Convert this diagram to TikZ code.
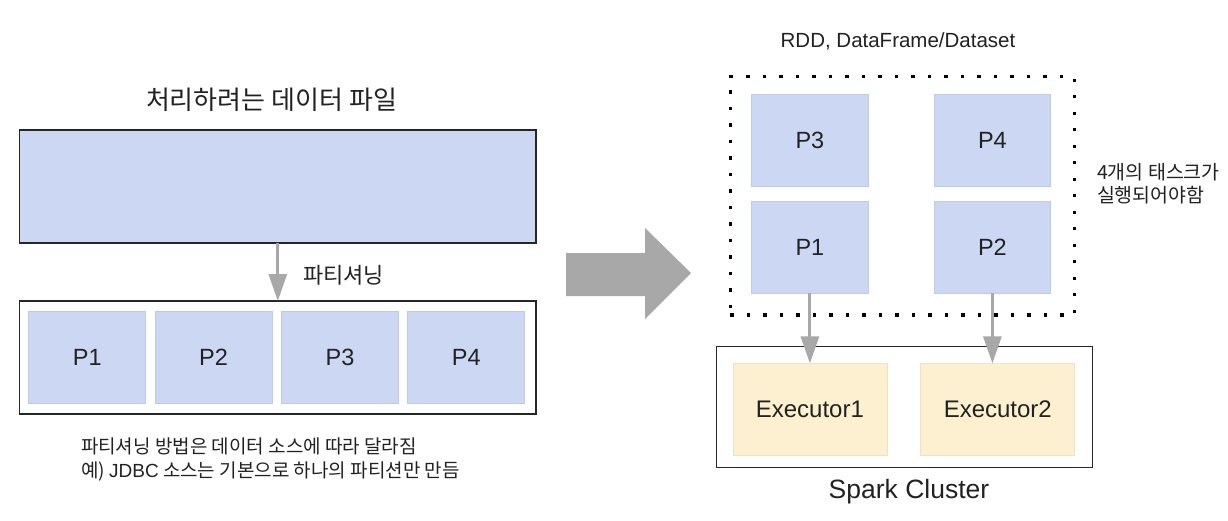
\documentclass[tikz,border=0pt]{standalone}
\usepackage{fontspec}
\setmainfont{Liberation Sans}
\newfontfamily\kr{Noto Sans CJK KR}
\usetikzlibrary{arrows.meta}
\definecolor{pfill}{HTML}{CCD8F3}
\definecolor{pline}{HTML}{BFCBE6}
\definecolor{efill}{HTML}{FCF0D0}
\definecolor{eline}{HTML}{EDE3C5}
\definecolor{arr}{HTML}{A8A8A8}
\definecolor{txt}{HTML}{222222}
\begin{document}
\begin{tikzpicture}[x=1pt,y=-1pt,
  pbox/.style={draw=pline, fill=pfill, line width=0.8pt, inner sep=0pt, outer sep=0pt,
    minimum width=117pt, minimum height=91.5pt, font=\fontsize{23.5}{26}\selectfont, text=txt},
  ebox/.style={draw=eline, fill=efill, line width=0.8pt, inner sep=0pt, outer sep=0pt,
    minimum width=154pt, minimum height=91.7pt, font=\fontsize{24}{26}\selectfont, text=txt},
  frame/.style={draw=black!85, line width=1.5pt, inner sep=0pt, outer sep=0pt},
  dotframe/.style={draw=black, line width=3.3pt, dash pattern=on 3.3pt off 13.2pt, inner sep=0pt, outer sep=0pt},
  conn/.style={draw=arr, line width=3pt, -{Triangle[length=27pt,width=18pt]}},
  lbl/.style={text=txt, inner sep=0pt, outer sep=0pt}]
\fill[white] (0,0) rectangle (1228,520);
\useasboundingbox (0,0) rectangle (1228,520);

% left side
\node[lbl, font=\kr\fontsize{26}{30}\selectfont] (title) at (271.5,100) {처리하려는 데이터 파일};
\node[frame, fill=pfill, minimum width=516.4pt, minimum height=112.7pt] (file) at (277.8,186.4) {};
\node[frame, minimum width=516.4pt, minimum height=113pt] (parts) at (277.8,357.5) {};
\node[pbox] (lp1) at (87.2,357.5) {P1};
\node[pbox] (lp2) at (213.5,357.5) {P2};
\node[pbox] (lp3) at (340,357.5) {P3};
\node[pbox] (lp4) at (466.2,357.5) {P4};
\draw[conn] (file.south) -- (parts.north);
\node[lbl, anchor=west, font=\kr\fontsize{22}{24}\selectfont] (part) at (303,275) {파티셔닝};
\node[lbl, anchor=west, align=left, font=\kr\fontsize{19}{24}\selectfont] (note) at (81,459)
  {파티셔닝 방법은 데이터 소스에 따라 달라짐\\예) {\rmfamily JDBC} 소스는 기본으로 하나의 파티션만 만듬};

% big arrow
\fill[arr] (566,253) -- (645,253) -- (645,228) -- (691,273) -- (645,319) -- (645,296) -- (566,296) -- cycle;

% right side
\node[lbl, anchor=base, font=\fontsize{20.5}{24}\selectfont] (rdd) at (898,47) {RDD, DataFrame/Dataset};
\node[dotframe, minimum width=344.3pt, minimum height=238.3pt] (set) at (902.5,195.9) {};
\node[pbox, minimum width=116.3pt] (rp3) at (809.9,140.5) {P3};
\node[pbox, minimum width=116.3pt] (rp4) at (992.4,140.5) {P4};
\node[pbox, minimum width=116.3pt] (rp1) at (809.9,247.5) {P1};
\node[pbox, minimum width=116.3pt] (rp2) at (992.4,247.5) {P2};
\node[lbl, anchor=west, align=left, font=\kr\fontsize{19.5}{23}\selectfont] (tasks) at (1097,183.5)
  {4개의 태스크가\\실행되어야함};

\node[frame, minimum width=376.2pt, minimum height=120.6pt] (cluster) at (904.5,407) {};
\node[ebox] (e1) at (809.9,409.2) {Executor1};
\node[ebox] (e2) at (997.8,409.2) {Executor2};
\node[lbl, anchor=base, font=\fontsize{26.5}{28}\selectfont] (spark) at (909,498.3) {Spark Cluster};

\draw[conn] (rp1.south) -- (e1.north);
\draw[conn] (rp2.south) -- (rp2.south |- e2.north);
\end{tikzpicture}
\end{document}
